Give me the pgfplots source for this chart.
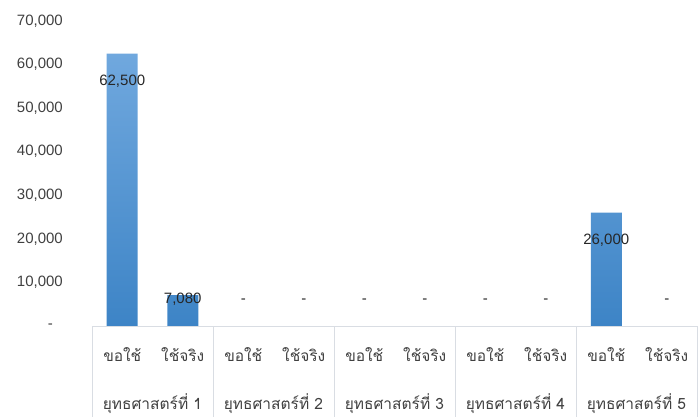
\documentclass[border=0pt]{standalone}
\usepackage{pgfplots}
\pgfplotsset{compat=1.18}
\usepackage{pgfplotstable}
\usepackage{fontspec}
\setmainfont{Liberation Sans}
\newfontfamily\thaifont[Script=Thai]{Loma}
\usetikzlibrary{calc}
\definecolor{txt}{HTML}{404040}
\definecolor{framec}{HTML}{D9DDE3}
\definecolor{bartop}{HTML}{70A8DE}
\definecolor{barbot}{HTML}{3D84C6}
\pgfplotstableread{
x y off lab
0 62500 -28 62,500
1 7080 -4 7,080
2 0 25 -
3 0 25 -
4 0 25 -
5 0 25 -
6 0 25 -
7 0 25 -
8 26000 -28 26,000
9 0 25 -
}\data
\begin{document}
\begin{tikzpicture}
\begin{axis}[
  scale only axis, width=605bp, height=305bp,
  xmin=-0.5, xmax=9.5, ymin=0, ymax=70000,
  axis line style={draw=none},
  major tick length=0pt,
  clip=false,
  scaled y ticks=false,
  ytick={0,10000,20000,30000,40000,50000,60000,70000},
  yticklabels={{-\kern10bp},{10,000},{20,000},{30,000},{40,000},{50,000},{60,000},{70,000}},
  yticklabel style={anchor=east, xshift=-29bp, inner sep=0pt, font=\fontsize{15bp}{18bp}\selectfont, text=txt},
  xtick={0,...,9},
  xticklabels={ขอใช้,ใช้จริง,ขอใช้,ใช้จริง,ขอใช้,ใช้จริง,ขอใช้,ใช้จริง,ขอใช้,ใช้จริง},
  xticklabel style={anchor=center, yshift=-29bp, inner sep=0pt, font=\thaifont\fontsize{15.5bp}{18bp}\selectfont, text=txt},
  ybar, bar width=31bp,
]
\addplot[draw=none, top color=bartop, bottom color=barbot,
  point meta=explicit symbolic,
  visualization depends on={\thisrow{off} \as \off},
  nodes near coords,
  nodes near coords style={anchor=center, yshift={(\off)*1bp}, font=\fontsize{15bp}{18bp}\selectfont, text=black!85},
] table[x=x, y=y, meta=lab] {\data};
\draw[framec] (axis cs:-0.5,0) -- (axis cs:9.5,0);
\pgfplotsinvokeforeach{-0.5,1.5,3.5,5.5,7.5,9.5}{
  \draw[framec] (axis cs:#1,0) -- ([yshift=-95bp]axis cs:#1,0);
}
\pgfplotsinvokeforeach{1,2,3,4,5}{
  \node[font=\thaifont\fontsize{15.5bp}{18bp}\selectfont, text=txt, yshift=-78bp] at (axis cs:{2*#1-1.5},0) {ยุทธศาสตร์ที่ #1};
}
\coordinate (sw) at (rel axis cs:0,0);
\coordinate (ne) at (rel axis cs:1,1);
\end{axis}
\pgfresetboundingbox
\path[use as bounding box] ($(sw)+(-92bp,-91bp)$) rectangle ($(ne)+(2bp,21bp)$);
\end{tikzpicture}
\end{document}
